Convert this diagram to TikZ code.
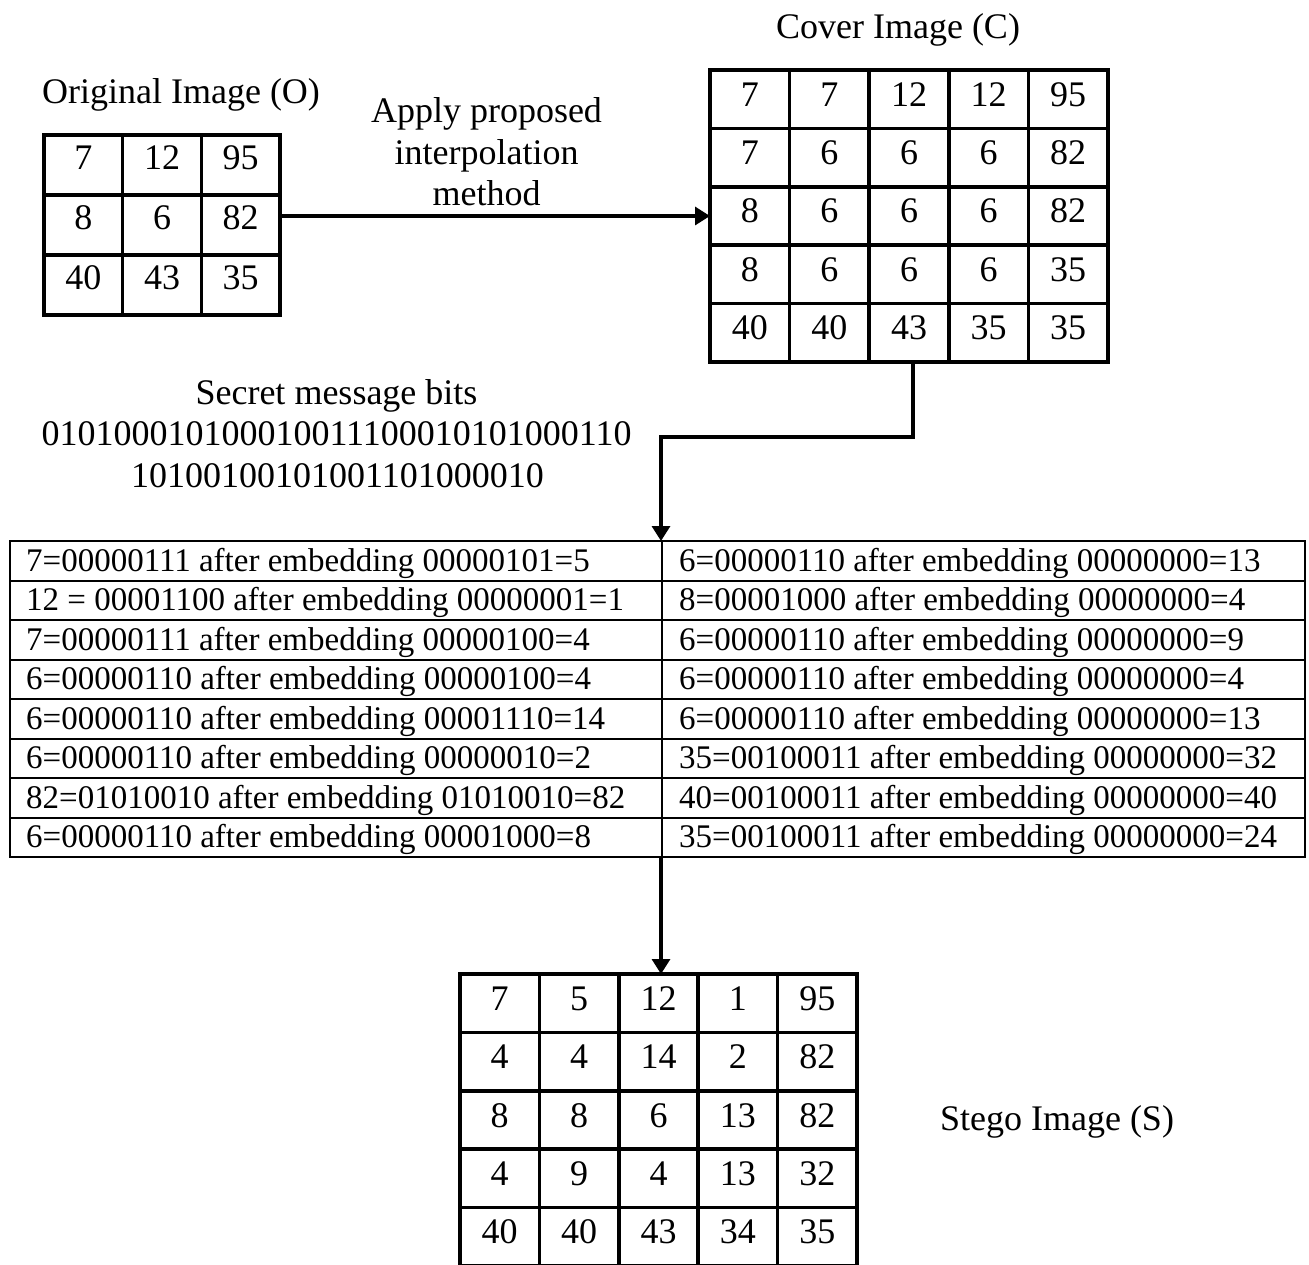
\documentclass[tikz,border=0pt]{standalone}
\usepackage{fontspec}
\setmainfont{Liberation Serif}
\usetikzlibrary{arrows.meta}
\begin{document}
\begin{tikzpicture}[x=1pt,y=-1pt,
  gridline/.style={line width=3.5pt},
  gridbox/.style={draw, line width=3.5pt, inner sep=0pt, outer sep=0pt, anchor=north west},
  tabbox/.style={draw, line width=2pt, inner sep=0pt, outer sep=0pt, anchor=north west},
  tabline/.style={line width=2pt},
  cellnum/.style={font=\fontsize{36}{40}\selectfont, anchor=base, inner sep=0pt},
  lbl/.style={font=\fontsize{36}{40}\selectfont, anchor=base, inner sep=0pt},
  rowtext/.style={font=\fontsize{33}{38}\selectfont, anchor=base west, inner sep=0pt},
  conn/.style={line width=3.3pt, -{Triangle[length=15pt,width=18pt]}},
]
\useasboundingbox (0,0) rectangle (1309,1265);

% ---------- Original image (3x3) ----------
\node[gridbox, minimum width=236pt, minimum height=180pt] (O) at (44,135) {};
\foreach \i in {1,2} {
  \draw[gridline] ({44+\i*78.667},135) -- ({44+\i*78.667},315);
  \draw[gridline] (44,{135+\i*60}) -- (280,{135+\i*60});
}
\foreach \row [count=\r from 0] in {{7,12,95},{8,6,82},{40,43,35}} {
  \foreach \v [count=\c from 0] in \row {
    \node[cellnum] (o\r\c) at ({44+(\c+0.5)*78.667},{135+(\r+0.5)*60+5}) {\v};
  }
}
\node[lbl] (otitle) at (181,104) {Original Image (O)};

% ---------- Cover image (5x5) ----------
\node[gridbox, minimum width=398pt, minimum height=292pt] (C) at (710,70) {};
\foreach \i in {1,...,4} {
  \draw[gridline] ({710+\i*79.6},70) -- ({710+\i*79.6},362);
  \draw[gridline] (710,{70+\i*58.4}) -- (1108,{70+\i*58.4});
}
\foreach \row [count=\r from 0] in {{7,7,12,12,95},{7,6,6,6,82},{8,6,6,6,82},{8,6,6,6,35},{40,40,43,35,35}} {
  \foreach \v [count=\c from 0] in \row {
    \node[cellnum] (c\r\c) at ({710+(\c+0.5)*79.6},{70+(\r+0.5)*58.4+7}) {\v};
  }
}
\node[lbl] (ctitle) at (898,39) {Cover Image (C)};

% ---------- Arrow label ----------
\node[lbl] (ap1) at (486.5,123) {Apply proposed};
\node[lbl] (ap2) at (486.5,165) {interpolation};
\node[lbl] (ap3) at (486.5,206) {method};

% ---------- Secret message ----------
\node[lbl] (sm1) at (336.5,404) {Secret message bits};
\node[lbl] (sm2) at (336.5,445) {010100010100010011100010101000110};
\node[lbl] (sm3) at (337.5,487) {10100100101001101000010};

% ---------- Table ----------
\node[tabbox, minimum width=1295pt, minimum height=316pt] (T) at (10,541) {};
\foreach \i in {1,...,7} {
  \draw[tabline] (10,{541+\i*39.5}) -- (1305,{541+\i*39.5});
}
\draw[tabline] (662,541) -- (662,857);
\foreach \t [count=\i from 0] in {
  7=00000111 after embedding 00000101=5,
  12 = 00001100 after embedding 00000001=1,
  7=00000111 after embedding 00000100=4,
  6=00000110 after embedding 00000100=4,
  6=00000110 after embedding 00001110=14,
  6=00000110 after embedding 00000010=2,
  82=01010010 after embedding 01010010=82,
  6=00000110 after embedding 00001000=8} {
  \node[rowtext] (L\i) at (26,{571+\i*39.5}) {\t};
}
\foreach \t [count=\i from 0] in {
  6=00000110 after embedding 00000000=13,
  8=00001000 after embedding 00000000=4,
  6=00000110 after embedding 00000000=9,
  6=00000110 after embedding 00000000=4,
  6=00000110 after embedding 00000000=13,
  35=00100011 after embedding 00000000=32,
  40=00100011 after embedding 00000000=40,
  35=00100011 after embedding 00000000=24} {
  \node[rowtext] (R\i) at (679,{571+\i*39.5}) {\t};
}

% ---------- Stego image (5x5) ----------
\node[gridbox, minimum width=397pt, minimum height=292pt] (S) at (460,974) {};
\foreach \i in {1,...,4} {
  \draw[gridline] ({460+\i*79.4},974) -- ({460+\i*79.4},1266);
  \draw[gridline] (460,{974+\i*58.4}) -- (857,{974+\i*58.4});
}
\foreach \row [count=\r from 0] in {{7,5,12,1,95},{4,4,14,2,82},{8,8,6,13,82},{4,9,4,13,32},{40,40,43,34,35}} {
  \foreach \v [count=\c from 0] in \row {
    \node[cellnum] (s\r\c) at ({460+(\c+0.5)*79.4},{974+(\r+0.5)*58.4+7}) {\v};
  }
}
\node[lbl] (stitle) at (1057,1130) {Stego Image (S)};

% ---------- Connectors ----------
\coordinate (bend) at (661,437);
\draw[conn] (O.east |- C.west) -- (C.west);
\draw[conn] ([xshift=4pt]C.south) |- (bend) -- (bend |- T.north);
\draw[conn] (bend |- T.south) -- (bend |- S.north);
\end{tikzpicture}
\end{document}
